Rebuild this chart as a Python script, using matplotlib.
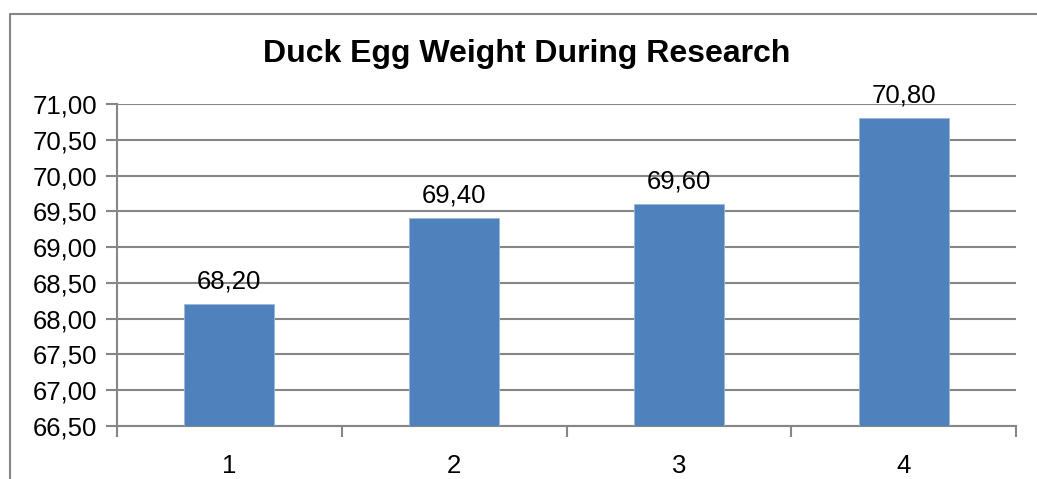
import matplotlib.pyplot as plt
import numpy as np
from matplotlib.lines import Line2D
from matplotlib.ticker import FuncFormatter, FixedLocator

plt.rcParams['font.family'] = ['Liberation Sans', 'DejaVu Sans']

weeks = ['1', '2', '3', '4']
egg_weight = [68.20, 69.40, 69.60, 70.80]
y_ticks = np.arange(66.5, 71.01, 0.5)

grey = '#868686'
bar_clr = '#4f81bd'


def comma(v, pos=None):
    return ('%.2f' % v).replace('.', ',')


fig = plt.figure(figsize=(10.37, 4.79), dpi=100)
# chart frame: only the left and top edges fall inside the image
fx, fy = 10 / 1037, 1 - 14 / 479
fig.add_artist(Line2D([fx, fx, 1.0], [0.0, fy, fy], transform=fig.transFigure,
                      color=grey, linewidth=1.5))

ax = fig.add_axes([117 / 1037, 1 - 426 / 479, 899 / 1037, 322 / 479])
x = np.arange(len(weeks))
bars = ax.bar(x, egg_weight, width=0.4, color=bar_clr, edgecolor='#9bb7da',
              linewidth=0.6, zorder=3)

ax.set_xlim(-0.5, len(weeks) - 0.5)
ax.set_ylim(66.5, 71.0)
ax.set_yticks(y_ticks)
ax.yaxis.set_major_formatter(FuncFormatter(comma))
ax.yaxis.grid(True, color=grey, linewidth=1.5, zorder=0)

ax.set_xticks(x)
ax.set_xticklabels(weeks)
ax.xaxis.set_minor_locator(FixedLocator(np.arange(-0.5, len(weeks), 1.0)))
ax.tick_params(axis='x', which='major', length=0, pad=20, labelsize=18.5)
ax.tick_params(axis='x', which='minor', length=8, width=1.5, color=grey)
ax.tick_params(axis='y', length=8, width=1.5, color=grey, labelsize=18.5,
               pad=6)

for s in ['top', 'right']:
    ax.spines[s].set_visible(False)
for s in ['left', 'bottom']:
    ax.spines[s].set_color(grey)
    ax.spines[s].set_linewidth(1.5)

for b, v in zip(bars, egg_weight):
    ax.annotate(comma(v), (b.get_x() + b.get_width() / 2, v),
                xytext=(0, 8), textcoords='offset points',
                ha='center', va='bottom', fontsize=18.5)

fig.text(527 / 1037, 1 - 54 / 479, 'Duck Egg Weight During Research',
         ha='center', va='center', fontsize=23, fontweight='bold')

fig.savefig('out.png', dpi=100)
